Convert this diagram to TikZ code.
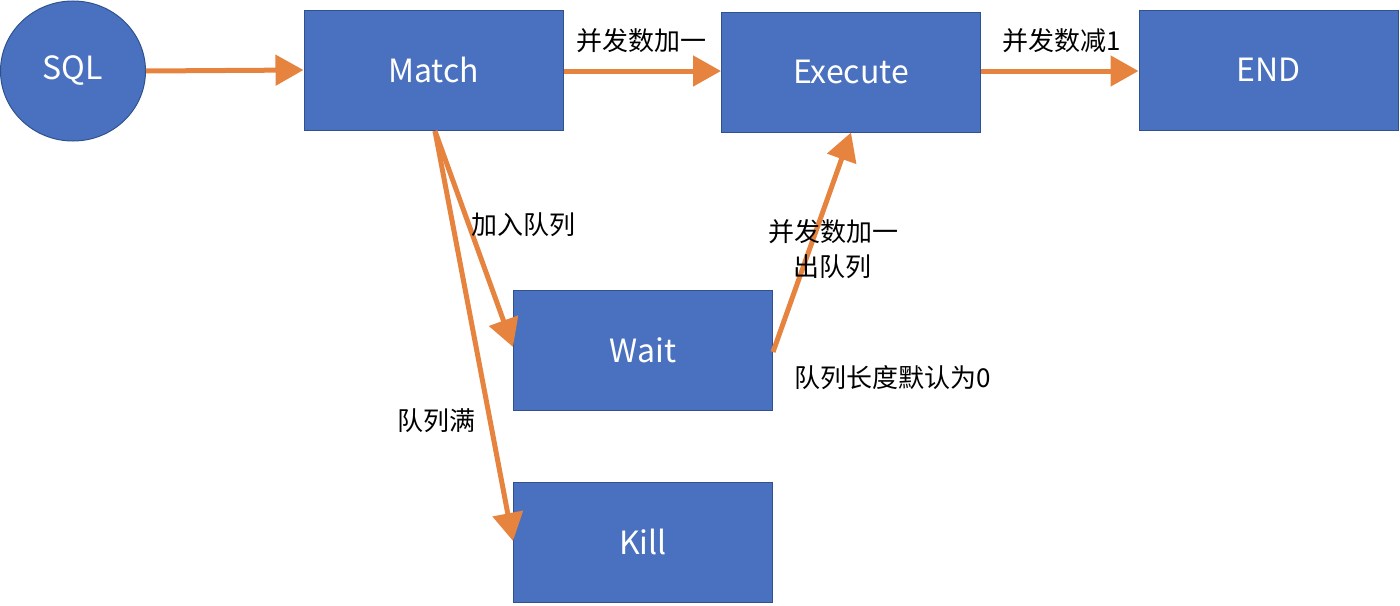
\documentclass[tikz,border=0pt]{standalone}
\usepackage{fontspec}
\setmainfont{Noto Sans CJK SC}
\usetikzlibrary{arrows.meta,shapes.geometric}
\definecolor{boxblue}{HTML}{4A71BF}
\definecolor{boxedge}{HTML}{2F528F}
\definecolor{arr}{HTML}{E6843F}
\begin{document}
\begin{tikzpicture}[x=1pt,y=-1pt,
  box/.style={rectangle,fill=boxblue,draw=boxedge,line width=1pt,minimum width=259pt,minimum height=120pt,inner sep=0pt,text=white,font=\fontsize{32}{38}\selectfont},
  circ/.style={ellipse,fill=boxblue,draw=boxedge,line width=1pt,minimum width=145pt,minimum height=140pt,inner sep=0pt,text=white,font=\fontsize{32}{38}\selectfont},
  flow/.style={draw=arr,line width=5pt,-{Triangle[length=28pt,width=30pt]}},
  lbl/.style={text=black,font=\fontsize{26}{31}\selectfont,inner sep=0pt}]
\useasboundingbox (0,0) rectangle (1400,605);
\node[circ] (sql) at (73,71) {SQL};
\node[box] (match) at (433.5,70) {Match};
\node[box] (exec) at (851,72) {Execute};
\node[box] (end) at (1268.5,70) {END};
\node[box] (wait) at (643,350) {Wait};
\node[box] (kill) at (643,542) {Kill};
\draw[flow] (sql.east) -- (match.west);
\draw[flow] (match.east |- 0,71) -- (exec.west |- 0,71);
\draw[flow] (exec.east |- 0,71) -- (end.west |- 0,71);
\coordinate (ms) at (435,131);
\draw[flow] (ms) -- (wait.west |- 0,347);
\draw[flow] (ms) -- (kill.west |- 0,541);
\draw[flow] (wait.east |- 0,352) -- (exec.south);
\node[lbl] (l1) at (641,41) {并发数加一};
\node[lbl] (l2) at (1062,41) {并发数减1};
\node[lbl] (l3) at (523,225) {加入队列};
\node[lbl] (l4) at (833,232) {并发数加一};
\node[lbl] (l5) at (832,267) {出队列};
\node[lbl] (l6) at (893,378) {队列长度默认为0};
\node[lbl] (l7) at (436,421) {队列满};
\end{tikzpicture}
\end{document}
